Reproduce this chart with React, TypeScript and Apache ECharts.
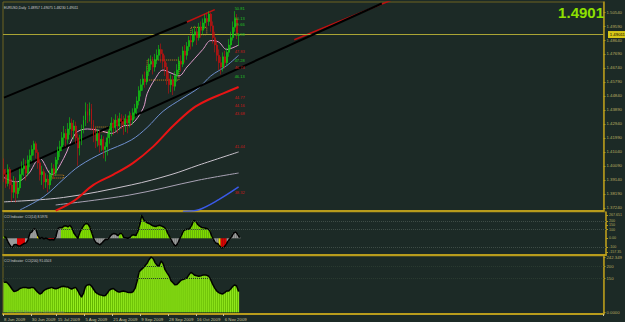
import React, { useEffect, useRef } from "react";
import * as echarts from "echarts";

const SLOTS = 302;
const dateTicks: Record<number, string> = {
  0: "8 Jun 2009", 14: "30 Jun 2009", 27: "15 Jul 2009", 41: "5 Aug 2009", 55: "21 Aug 2009",
  69: "9 Sep 2009", 83: "28 Sep 2009", 97: "16 Oct 2009", 111: "6 Nov 2009",
};

const opens = [
  1.3985, 1.3950, 1.3890, 1.3985, 1.3880, 1.3830, 1.3900, 1.3820, 1.3860, 1.3950,
  1.3990, 1.4010, 1.3960, 1.4050, 1.4080, 1.4120, 1.4160, 1.4100, 1.4030, 1.3950,
  1.3970, 1.3900, 1.3920, 1.3880, 1.3950, 1.3990, 1.3960, 1.4050, 1.4110, 1.4140,
  1.4200, 1.4230, 1.4190, 1.4260, 1.4300, 1.4250, 1.4280, 1.4200, 1.4130, 1.4180,
  1.4260, 1.4320, 1.4380, 1.4350, 1.4400, 1.4290, 1.4220, 1.4180, 1.4230, 1.4150,
  1.4190, 1.4120, 1.4140, 1.4200, 1.4250, 1.4300, 1.4270, 1.4320, 1.4280, 1.4330,
  1.4310, 1.4290, 1.4330, 1.4300, 1.4350, 1.4320, 1.4370, 1.4400, 1.4450, 1.4520,
  1.4560, 1.4600, 1.4580, 1.4650, 1.4700, 1.4720, 1.4680, 1.4730, 1.4760, 1.4800,
  1.4770, 1.4720, 1.4680, 1.4600, 1.4560, 1.4590, 1.4550, 1.4620, 1.4660, 1.4720,
  1.4700, 1.4790, 1.4760, 1.4820, 1.4860, 1.4850, 1.4900, 1.4920, 1.4880, 1.4950,
  1.4930, 1.4980, 1.5010, 1.4990, 1.5040, 1.4960, 1.4880, 1.4830, 1.4760, 1.4710,
  1.4680, 1.4750, 1.4710, 1.4780, 1.4830, 1.4880, 1.4950, 1.5010, 1.48957,
];
const closes = [
  1.3950, 1.3890, 1.3985, 1.3880, 1.3830, 1.3900, 1.3820, 1.3860, 1.3950, 1.3990,
  1.4010, 1.3960, 1.4050, 1.4080, 1.4120, 1.4160, 1.4100, 1.4030, 1.3950, 1.3970,
  1.3900, 1.3920, 1.3880, 1.3950, 1.3990, 1.3960, 1.4050, 1.4110, 1.4140, 1.4200,
  1.4230, 1.4190, 1.4260, 1.4300, 1.4250, 1.4280, 1.4200, 1.4130, 1.4180, 1.4260,
  1.4320, 1.4380, 1.4350, 1.4400, 1.4290, 1.4220, 1.4180, 1.4230, 1.4150, 1.4190,
  1.4120, 1.4140, 1.4200, 1.4250, 1.4300, 1.4270, 1.4320, 1.4280, 1.4330, 1.4310,
  1.4290, 1.4330, 1.4300, 1.4350, 1.4320, 1.4370, 1.4400, 1.4450, 1.4520, 1.4560,
  1.4600, 1.4580, 1.4650, 1.4700, 1.4720, 1.4680, 1.4730, 1.4760, 1.4800, 1.4770,
  1.4720, 1.4680, 1.4600, 1.4560, 1.4590, 1.4550, 1.4620, 1.4660, 1.4720, 1.4700,
  1.4790, 1.4760, 1.4820, 1.4860, 1.4850, 1.4900, 1.4920, 1.4880, 1.4950, 1.4930,
  1.4980, 1.5010, 1.4990, 1.5040, 1.4960, 1.4880, 1.4830, 1.4760, 1.4710, 1.4680,
  1.4750, 1.4710, 1.4780, 1.4830, 1.4880, 1.4950, 1.5010, 1.4900, 1.49011,
];
const lows = [
  1.3900, 1.3860, 1.3870, 1.3850, 1.3765, 1.3790, 1.3760, 1.3790, 1.3840, 1.3910,
  1.3940, 1.3910, 1.3940, 1.4000, 1.4040, 1.4080, 1.4060, 1.3990, 1.3910, 1.3880,
  1.3850, 1.3860, 1.3830, 1.3850, 1.3910, 1.3920, 1.3940, 1.4020, 1.4070, 1.4110,
  1.4150, 1.4140, 1.4160, 1.4220, 1.4200, 1.4190, 1.4160, 1.4010, 1.4080, 1.4150,
  1.4230, 1.4280, 1.4300, 1.4310, 1.4250, 1.4170, 1.4130, 1.4140, 1.4100, 1.4110,
  1.4060, 1.4040, 1.4080, 1.4160, 1.4210, 1.4220, 1.4240, 1.4230, 1.4250, 1.4260,
  1.4220, 1.4240, 1.4230, 1.4270, 1.4280, 1.4290, 1.4330, 1.4360, 1.4420, 1.4480,
  1.4520, 1.4540, 1.4560, 1.4620, 1.4660, 1.4630, 1.4650, 1.4700, 1.4730, 1.4710,
  1.4670, 1.4620, 1.4560, 1.4500, 1.4510, 1.4490, 1.4520, 1.4580, 1.4630, 1.4650,
  1.4680, 1.4710, 1.4730, 1.4790, 1.4800, 1.4820, 1.4860, 1.4830, 1.4860, 1.4880,
  1.4900, 1.4940, 1.4950, 1.4960, 1.4920, 1.4840, 1.4780, 1.4720, 1.4660, 1.4630,
  1.4650, 1.4670, 1.4690, 1.4750, 1.4800, 1.4860, 1.4920, 1.4870, 1.48230,
];
const highs = [
  1.4060, 1.3990, 1.4020, 1.4000, 1.3920, 1.3940, 1.3930, 1.3900, 1.3990, 1.4040,
  1.4060, 1.4050, 1.4080, 1.4120, 1.4150, 1.4180, 1.4175, 1.4120, 1.4060, 1.4010,
  1.3990, 1.3960, 1.3950, 1.3980, 1.4030, 1.4020, 1.4070, 1.4140, 1.4180, 1.4240,
  1.4280, 1.4260, 1.4300, 1.4340, 1.4330, 1.4320, 1.4310, 1.4230, 1.4220, 1.4290,
  1.4350, 1.4440, 1.4430, 1.4440, 1.4430, 1.4320, 1.4270, 1.4260, 1.4250, 1.4220,
  1.4210, 1.4170, 1.4230, 1.4280, 1.4340, 1.4330, 1.4360, 1.4350, 1.4370, 1.4360,
  1.4350, 1.4360, 1.4350, 1.4380, 1.4370, 1.4400, 1.4430, 1.4480, 1.4550, 1.4600,
  1.4630, 1.4650, 1.4690, 1.4740, 1.4760, 1.4750, 1.4770, 1.4800, 1.4830, 1.4840,
  1.4800, 1.4760, 1.4710, 1.4640, 1.4630, 1.4620, 1.4650, 1.4700, 1.4750, 1.4760,
  1.4820, 1.4830, 1.4850, 1.4890, 1.4900, 1.4940, 1.4960, 1.4950, 1.4980, 1.4990,
  1.5010, 1.5040, 1.5050, 1.5060, 1.5050, 1.4990, 1.4920, 1.4860, 1.4800, 1.4750,
  1.4780, 1.4790, 1.4810, 1.4870, 1.4920, 1.4990, 1.5060, 1.5040, 1.49075,
];

// moving averages read at sample bars: [bar index, price]
const maPink = [[0, 1.3930], [6, 1.3900], [12, 1.3950], [18, 1.4060], [24, 1.3950], [30, 1.4060], [36, 1.4230], [42, 1.4260], [48, 1.4250], [54, 1.4230], [60, 1.4280], [64, 1.4290], [70, 1.4400], [72, 1.4500], [76, 1.4600], [80, 1.4660], [84, 1.4640], [88, 1.4620], [92, 1.4680], [96, 1.4740], [100, 1.4800], [104, 1.4860], [108, 1.4850], [112, 1.4800], [118, 1.4830]];
const maSteel = [[8, 1.3710], [20, 1.3800], [30, 1.3920], [38, 1.4010], [50, 1.4100], [64, 1.4185], [72, 1.4270], [80, 1.4380], [90, 1.4470], [98, 1.4540], [104, 1.4620], [112, 1.4690], [118, 1.4760]];
const maRed = [[26, 1.3705], [35, 1.3770], [45, 1.3880], [55, 1.3950], [65, 1.4030], [75, 1.4140], [85, 1.4280], [95, 1.4400], [103, 1.4460], [110, 1.4500], [118, 1.4545]];
const maSilver = [[0, 1.3765], [30, 1.3795], [64, 1.3880], [84, 1.3950], [98, 1.4015], [118, 1.4104]];
const maGrey = [[26, 1.3744], [63, 1.3811], [98, 1.3913], [118, 1.3961]];
const maBlue = [[90, 1.3700], [98, 1.3712], [108, 1.3780], [118, 1.3866]];

// trend lines: [bar index, price]
const trendUpper = [[0, 1.4473], [92, 1.4986]];
const trendUpperRed = [[92, 1.4986], [106, 1.5070]];
const trendLower = [[0, 1.3948], [190, 1.5112]];
const trendLowerRed = [[146, 1.4866], [196, 1.5141]];

// dotted range boxes: [from bar, to bar, low, high]
const rangeBoxes = [
  [72, 88, 1.4592, 1.4728],
  [46, 53, 1.4239, 1.4273],
  [24, 30, 1.3927, 1.3947],
  [94, 102, 1.4900, 1.4950],
];

// level labels to the right of the last bar: [price, text, kind]
const levelLabels: [number, string, string][] = [
  [1.5081, "50.81", "up"], [1.5013, "50.13", "up"], [1.4966, "49.66", "up"], [1.4898, "48.98", "up"],
  [1.4783, "47.83", "dn"], [1.4728, "47.28", "up"], [1.4674, "46.74", "dn"], [1.4613, "46.13", "up"],
  [1.4477, "44.77", "dn"], [1.4416, "44.16", "dn"], [1.4368, "43.68", "dn"], [1.4144, "41.44", "dn"],
  [1.3832, "38.32", "dn"],
];

const priceTicks = [1.3724, 1.3819, 1.3914, 1.4009, 1.4104, 1.4199, 1.4294, 1.4389, 1.4484, 1.4579, 1.4674, 1.4769, 1.4864, 1.4959, 1.5054];
const lastPrice = 1.49011;

const cci14 = [
  18, 10, -40, -80, -110, -75, -70, -85, -90, -75,
  -60, -55, -20, 60, 75, 110, 100, 30, -5, 10,
  -10, 5, -10, -20, -15, -20, 20, 110, 125, 120,
  140, 145, 130, 150, 120, 60, 30, 0, 70, 110,
  150, 170, 165, 130, 60, -10, -50, -60, -75, -55,
  -30, -10, -15, 20, 45, 55, 50, 30, 55, 55,
  10, 5, 0, 10, 35, 40, 30, 80, 160, 267.651,
  210, 190, 175, 165, 150, 140, 135, 145, 150, 140,
  130, 110, 60, 15, -30, -70, -90, -60, -10, 40,
  90, 100, 105, 110, 150, 205, 195, 160, 140, 125,
  120, 115, 110, 90, 30, -20, -55, -60, -90, -110,
  -105, -80, -40, -10, 20, 60, 75, 45, 8.5976,
];
const cci14Cls =
  "ggsssssrrr" + "rssssssyss" + "ssrrrrsssg" + "gggggggsgg" + "gggggsssss" +
  "ssssssssgg" + "ssssgggggg" + "gggggggggg" + "ggggsssssg" + "gggggggggg" +
  "gggggsssyr" + "rrsssssss";
const cci14Ticks = [-157.35, -100, 0, 100, 150, 200, 267.651];

const cci200 = [
  131, 133, 126, 115, 102, 91, 93, 97, 104, 107,
  109, 109, 106, 106, 109, 107, 97, 88, 80, 84,
  95, 100, 104, 106, 109, 105, 103, 105, 109, 113,
  114, 112, 111, 106, 102, 106, 109, 97, 80, 66,
  84, 113, 120, 122, 115, 102, 88, 82, 77, 75,
  72, 73, 84, 97, 102, 104, 97, 91, 88, 91,
  93, 91, 88, 86, 86, 91, 106, 138, 178, 187,
  195, 205, 215, 232, 242.349, 236, 218, 206, 203, 225,
  214, 187, 173, 160, 138, 129, 120, 122, 131, 140,
  144, 147, 151, 164, 175, 169, 162, 160, 158, 160,
  163, 164, 162, 158, 142, 122, 106, 93, 86, 82,
  80, 86, 93, 93, 102, 113, 120, 115, 91.0503,
];
const cci200Ticks = [0, 150, 200, 242.349];

const categories = Array.from({ length: SLOTS }, (_, i) => dateTicks[i] ?? "");
const candleData = closes.map((c, i) => [opens[i], c, lows[i], highs[i]]);
const clsColor: Record<string, string> = { g: "#7fdc00", s: "#9a9a9a", r: "#e00000", y: "#e8e000" };

const GOLD = "#b89c1c";
const FONT = "Liberation Sans";
const LABEL = "#b8aa60";

function maLine(data: number[][], color: string, width: number, z = 3) {
  return {
    type: "line", xAxisIndex: 0, yAxisIndex: 0, data, symbol: "none", smooth: 0.35, z,
    lineStyle: { color, width }, silent: true,
  };
}

function valueAxis(grid: number, min: number, max: number, ticks: number[], fmt: (v: number) => string, size = 4.3) {
  return {
    type: "value", gridIndex: grid, position: "right", min, max,
    axisLine: { show: true, lineStyle: { color: GOLD, width: 1.5 } },
    axisTick: { show: true, length: 2, customValues: ticks, lineStyle: { color: GOLD } },
    axisLabel: { show: true, customValues: ticks, formatter: fmt, fontSize: size, margin: 3, color: LABEL, fontFamily: FONT, hideOverlap: false },
    splitLine: { show: false },
  };
}

const option: any = {
  animation: false,
  backgroundColor: "#1c2a26",
  textStyle: { fontFamily: FONT },
  grid: [
    { left: 3, right: 17, top: 2, height: 209, show: true, borderColor: "#6c6220", borderWidth: 1 },
    { left: 3, right: 17, top: 212, height: 43, show: true, borderColor: "#6c6220", borderWidth: 1 },
    { left: 3, right: 17, top: 256, height: 58, show: true, borderColor: "#6c6220", borderWidth: 1 },
  ],
  xAxis: [0, 1, 2].map((g) => ({
    type: "category", gridIndex: g, data: categories, boundaryGap: true,
    axisLine: { show: true, onZero: false, lineStyle: { color: GOLD, width: 2 } },
    axisTick: g === 2
      ? { show: true, length: 2, interval: (i: number) => dateTicks[i] !== undefined, lineStyle: { color: "#c8c098" } }
      : { show: false },
    axisLabel: g === 2
      ? { show: true, interval: (i: number) => dateTicks[i] !== undefined, align: "left", margin: 3, fontSize: 4.3, color: "#c8c098", fontFamily: FONT, hideOverlap: false, showMinLabel: true, showMaxLabel: true }
      : { show: false },
    splitLine: { show: false },
  })),
  yAxis: [
    valueAxis(0, 1.3703, 1.5122, priceTicks, (v) => v.toFixed(5)),
    valueAxis(1, -192, 302, cci14Ticks, (v) => (v === 0 ? "0.00" : String(v)), 3.6),
    valueAxis(2, -8, 247, cci200Ticks, (v) => (v === 0 ? "0.0000" : String(v))),
  ],
  series: [
    maLine(maSilver, "#c9c2cc", 1),
    maLine(maGrey, "#a8a2b4", 1),
    maLine(maBlue, "#3a5ae8", 1.5),
    maLine(maRed, "#e81414", 2),
    maLine(maSteel, "#6f90d0", 1),
    maLine(maPink, "#e09ccc", 1),
    { type: "line", xAxisIndex: 0, yAxisIndex: 0, data: trendLowerRed, symbol: "none", lineStyle: { color: "#c01010", width: 1.5 }, z: 4, silent: true },
    { type: "line", xAxisIndex: 0, yAxisIndex: 0, data: trendLower, symbol: "none", lineStyle: { color: "#000000", width: 2 }, z: 5, silent: true },
    { type: "line", xAxisIndex: 0, yAxisIndex: 0, data: trendUpper, symbol: "none", lineStyle: { color: "#000000", width: 2 }, z: 5, silent: true },
    { type: "line", xAxisIndex: 0, yAxisIndex: 0, data: trendUpperRed, symbol: "none", lineStyle: { color: "#c01010", width: 1.5 }, z: 5, silent: true },
    {
      type: "candlestick", xAxisIndex: 0, yAxisIndex: 0, data: candleData, barWidth: 1.4, z: 6,
      itemStyle: { color: "#10d010", color0: "#c81010", borderColor: "#10d010", borderColor0: "#c81010", borderColorDoji: "#10d010", borderWidth: 0.6 },
      markLine: {
        silent: true, symbol: ["none", "none"], animation: false,
        data: [{ yAxis: lastPrice }],
        lineStyle: { color: "#aaa434", width: 1, type: "solid" },
        label: { show: false },
      },
      markArea: {
        silent: true,
        itemStyle: { color: "rgba(0,0,0,0)", borderColor: "#c8801c", borderWidth: 1, borderType: "dotted" },
        data: rangeBoxes.map(([a, b, lo, hi]) => [{ xAxis: a, yAxis: lo }, { xAxis: b, yAxis: hi }]),
      },
    },
    {
      type: "bar", xAxisIndex: 1, yAxisIndex: 1, barCategoryGap: "0%", z: 2,
      data: cci14.map((v, i) => ({ value: v, itemStyle: { color: clsColor[cci14Cls[i]] } })),
      markLine: {
        silent: true, symbol: ["none", "none"], animation: false,
        data: [{ yAxis: 200 }, { yAxis: 100 }, { yAxis: -100 }],
        lineStyle: { color: "#3e4c46", width: 1, type: "dotted" }, label: { show: false },
      },
    },
    { type: "line", xAxisIndex: 1, yAxisIndex: 1, data: cci14, symbol: "none", lineStyle: { color: "#000", width: 1.5 }, z: 3, silent: true },
    {
      type: "line", xAxisIndex: 2, yAxisIndex: 2, data: cci200, symbol: "none", z: 1, silent: true,
      lineStyle: { width: 0 }, areaStyle: { color: "#62b400", opacity: 1 },
    },
    {
      type: "bar", xAxisIndex: 2, yAxisIndex: 2, data: cci200, barWidth: 1, z: 2,
      itemStyle: { color: "#98f020" },
      markLine: {
        silent: true, symbol: ["none", "none"], animation: false,
        data: [{ yAxis: 200 }, { yAxis: 150 }],
        lineStyle: { color: "#2a3a30", width: 1, type: "dotted" }, label: { show: false },
      },
    },
    { type: "line", xAxisIndex: 2, yAxisIndex: 2, data: cci200, symbol: "none", lineStyle: { color: "#000", width: 1.5 }, z: 3, silent: true },
  ],
  graphic: [
    { type: "text", left: 4, top: 6, z: 10, style: { text: "EURUSD,Daily  1.48957 1.49075 1.48230 1.49011", fill: "#d0d0d0", font: `3.3px "${FONT}"` } },
    { type: "text", right: 21, top: 5, z: 10, style: { text: "1.4901", fill: "#8ee000", font: `bold 15px "${FONT}"` } },
    { type: "text", left: 4, top: 215, z: 10, style: { text: "CCI Indicator  CCI(14) 8.5976", fill: "#d0d0d0", font: `3.3px "${FONT}"` } },
    { type: "text", left: 4, top: 259, z: 10, style: { text: "CCI Indicator  CCI(200) 91.0503", fill: "#d0d0d0", font: `3.3px "${FONT}"` } },
    { type: "text", left: 4, top: 310, z: 10, style: { text: "© 2001-2009 MetaQuotes Software Corp.", fill: "#7a8a60", font: `3.3px "${FONT}"` } },
  ],
};

export default function App() {
  const ref = useRef<HTMLDivElement>(null);
  useEffect(() => {
    const chart = echarts.init(ref.current!, null, { renderer: "svg" });
    chart.setOption(option);
    const y = chart.convertToPixel({ yAxisIndex: 0 }, lastPrice) as number;
    const lx = chart.convertToPixel({ xAxisIndex: 0 }, 116) as number;
    const levelTexts = levelLabels.map(([p, t, k]) => ({
      type: "text", left: lx, top: (chart.convertToPixel({ yAxisIndex: 0 }, p) as number) - 2, z: 9,
      style: { text: t, fill: k === "up" ? "#22c422" : "#c81818", font: `4px "${FONT}"` },
    }));
    chart.setOption({
      graphic: [
        ...option.graphic,
        ...levelTexts,
        { type: "rect", right: 0, top: y - 3.5, z: 11, shape: { width: 17, height: 7 }, style: { fill: "#d8c818" } },
        { type: "text", right: 0, top: y - 2.3, z: 12, style: { text: lastPrice.toFixed(5), fill: "#000", font: `4.3px "${FONT}"` } },
      ],
    });
    return () => chart.dispose();
  }, []);
  return <div ref={ref} style={{ position: "fixed", left: 0, top: 0, width: 625, height: 322 }} />;
}
